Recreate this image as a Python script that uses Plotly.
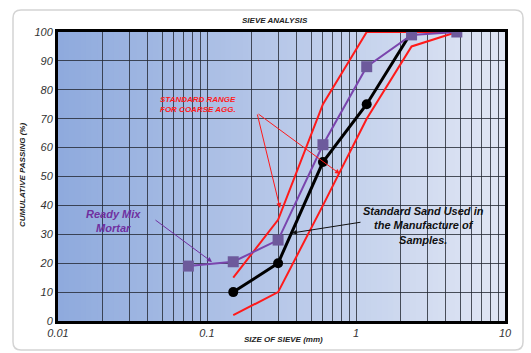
import plotly.graph_objects as go

# ---- data ----
sieve_sizes = [0.075, 0.15, 0.3, 0.6, 1.18, 2.36, 4.75]
mortar_passing = [19, 20.5, 28, 61, 88, 99, 100]
sand_sizes = [0.15, 0.3, 0.6, 1.18, 2.36]
sand_passing = [10, 20, 55, 75, 100]
range_sizes = [0.15, 0.3, 0.6, 1.18, 2.36, 4.75]
range_upper = [15, 35, 75, 100, 100, 100]
range_lower = [2, 10, 40, 70, 95, 100]
x_tick_vals = [0.01, 0.1, 1, 10]
x_tick_text = ["0.01", "0.1", "1", "10"]
y_tick_vals = [0, 10, 20, 30, 40, 50, 60, 70, 80, 90, 100]

# ---- geometry helpers (pixels -> paper) ----
W, H = 531, 353
L, R, T, B = 58, 26, 32, 32
PW, PH = W - L - R, H - T - B
def px(x):
    return (x - L) / PW
def py(y):
    return (H - B - y) / PH

fig = go.Figure()

red = "#ff1a1a"
fig.add_trace(go.Scatter(x=range_sizes, y=range_upper, mode="lines",
                         line=dict(color=red, width=2), hoverinfo="skip"))
fig.add_trace(go.Scatter(x=range_sizes, y=range_lower, mode="lines",
                         line=dict(color=red, width=2), hoverinfo="skip"))
fig.add_trace(go.Scatter(x=sand_sizes, y=sand_passing, mode="lines+markers",
                         line=dict(color="black", width=3),
                         marker=dict(symbol="circle", size=10, color="black")))
fig.add_trace(go.Scatter(x=sieve_sizes, y=mortar_passing, mode="lines+markers",
                         line=dict(color="#7a45ad", width=2),
                         marker=dict(symbol="square", size=11, color="#6d5a9c")))

# gradient background strips
shapes = []
n = 80
c0 = (0x8f, 0xaa, 0xdd)
c1 = (0xe0, 0xe6, 0xf4)
for i in range(n):
    t = i / (n - 1)
    c = tuple(int(round(c0[k] + (c1[k] - c0[k]) * t)) for k in range(3))
    shapes.append(dict(type="rect", xref="paper", yref="paper",
                       x0=i / n, x1=(i + 1) / n + 0.002, y0=0, y1=1,
                       fillcolor="rgb(%d,%d,%d)" % c, line=dict(width=0),
                       layer="below"))

# outer rounded frame
x0, x1, y0, y1 = px(13), px(523), py(350), py(10)
rx, ry = 8 / PW, 8 / PH
path = (f"M {x0+rx},{y1} L {x1-rx},{y1} Q {x1},{y1} {x1},{y1-ry} "
        f"L {x1},{y0+ry} Q {x1},{y0} {x1-rx},{y0} L {x0+rx},{y0} "
        f"Q {x0},{y0} {x0},{y0+ry} L {x0},{y1-ry} Q {x0},{y1} {x0+rx},{y1} Z")
shapes.append(dict(type="path", xref="paper", yref="paper", path=path,
                   line=dict(color="#d4d4d4", width=1.5), layer="below"))

minor_vals = []
for e in [0.01, 0.1, 1]:
    for k in range(2, 10):
        minor_vals.append(k * e)

grid_col = "rgba(35,40,50,0.8)"
tick_font = dict(family="Liberation Sans, Arial", size=11, color="#333333", style="italic")
title_font = dict(family="Liberation Sans, Arial", size=8, color="#222222", style="italic", weight="bold")

def label(text, x, y, font, angle=0, align="center"):
    return dict(text=text, xref="paper", yref="paper", x=px(x), y=py(y),
                xanchor="center", yanchor="middle", showarrow=False,
                textangle=angle, align=align, font=font)

annotations = [
    label("SIEVE ANALYSIS", 275, 20, title_font),
    label("CUMULATIVE PASSING (%)", 22, 175, title_font, angle=-90),
    label("SIZE OF SIEVE (mm)", 283, 340, title_font),
    label("STANDARD RANGE<br>FOR COARSE AGG.", 198, 104,
          dict(family="Liberation Sans, Arial", size=8, color="#ff1a1a",
               style="italic", weight="bold"), align="left"),
    label("Ready Mix<br>Mortar", 113, 221,
          dict(family="Liberation Sans, Arial", size=11, color="#7030a0",
               style="italic", weight="bold")),
    label("Standard Sand Used in<br>the Manufacture of<br>Samples.", 423, 225,
          dict(family="Liberation Sans, Arial", size=11, color="#111111",
               style="italic", weight="bold")),
]

def arrow(xs, ys, xe, ye, color):
    return dict(text="", xref="paper", yref="paper", axref="pixel", ayref="pixel",
                x=px(xe), y=py(ye), ax=xs - xe, ay=ys - ye, showarrow=True,
                arrowhead=2, arrowsize=1, arrowwidth=1, arrowcolor=color)

annotations += [
    arrow(257, 113, 340, 174, "#ff1a1a"),
    arrow(257, 113, 280, 208, "#ff1a1a"),
    arrow(154, 219, 212, 262, "#7030a0"),
    arrow(362, 222, 292, 233, "#111111"),
]

fig.update_layout(
    width=W, height=H,
    margin=dict(l=L, r=R, t=T, b=B),
    paper_bgcolor="white",
    plot_bgcolor="#dfe5f4",
    showlegend=False,
    shapes=shapes,
    annotations=annotations,
    xaxis=dict(type="log", range=[-2, 1], tickvals=x_tick_vals, ticktext=x_tick_text,
               showgrid=True, gridcolor=grid_col, gridwidth=1,
               minor=dict(tickvals=minor_vals, showgrid=True, gridcolor=grid_col, gridwidth=1),
               showline=True, linecolor="black", linewidth=3, mirror=True,
               ticks="", tickfont=tick_font, zeroline=False),
    yaxis=dict(range=[0, 100], tickvals=y_tick_vals,
               showgrid=True, gridcolor=grid_col, gridwidth=1,
               showline=True, linecolor="black", linewidth=3, mirror=True,
               ticks="", tickfont=tick_font, zeroline=False),
)

fig.write_html("out.html")
